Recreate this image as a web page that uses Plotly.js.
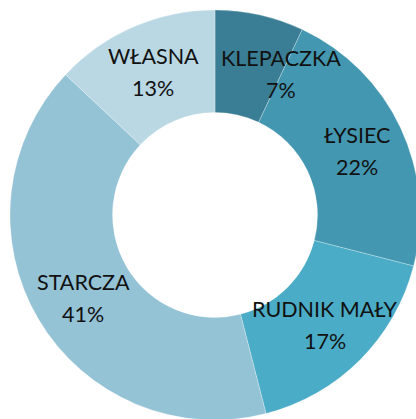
<!DOCTYPE html>
<html><head><meta charset="utf-8">
<script src="https://cdn.plot.ly/plotly-3.0.1.min.js"></script>
<style>html,body{margin:0;padding:0;overflow:hidden;background:#fff}</style>
</head><body><div id="chart"></div>
<script>
const labels = ['KLEPACZKA', 'ŁYSIEC', 'RUDNIK MAŁY', 'STARCZA', 'WŁASNA'];
const values = [7, 22, 17, 41, 13];
const colors = ['#3a7e95', '#4397b0', '#4aacc6', '#94c3d6', '#bad8e4'];

// label placement (style): radius fraction of outer radius, angle nudge in degrees
const labelR = 0.76;
const angleNudge = [12.5, 0.8, 0, -1.7, 0];

const total = values.reduce((a, b) => a + b, 0);
const annotations = [];
let cum = 0;
values.forEach((v, i) => {
  const mid = (cum + v / 2) / total * 360 + angleNudge[i];
  cum += v;
  const a = mid * Math.PI / 180;
  const x = 0.5 + 0.5 * labelR * Math.sin(a);
  const y = 0.5 + 0.5 * labelR * Math.cos(a);
  const pct = Math.round(v / total * 100) + '%';
  const f = {family: 'Lato, Carlito, Calibri, sans-serif', size: 21.5, color: '#111'};
  annotations.push({x, y, xref: 'paper', yref: 'paper', text: labels[i], showarrow: false, font: f, yshift: 16, xanchor: 'center', yanchor: 'middle'});
  annotations.push({x, y, xref: 'paper', yref: 'paper', text: pct, showarrow: false, font: f, yshift: -16, xanchor: 'center', yanchor: 'middle'});
});

const data = [{
  type: 'pie',
  labels: labels,
  values: values,
  hole: 0.5,
  sort: false,
  direction: 'clockwise',
  rotation: 0,
  textinfo: 'none',
  marker: {colors: colors, line: {color: 'rgba(255,255,255,0.45)', width: 0.6}},
  showlegend: false,
  hoverinfo: 'label+percent'
}];

const layout = {
  width: 420, height: 420,
  margin: {l: 10, r: 0, t: 10, b: 0},
  paper_bgcolor: '#fff',
  showlegend: false,
  annotations: annotations
};
Plotly.newPlot('chart', data, layout, {displayModeBar: false, staticPlot: true});
</script></body></html>
